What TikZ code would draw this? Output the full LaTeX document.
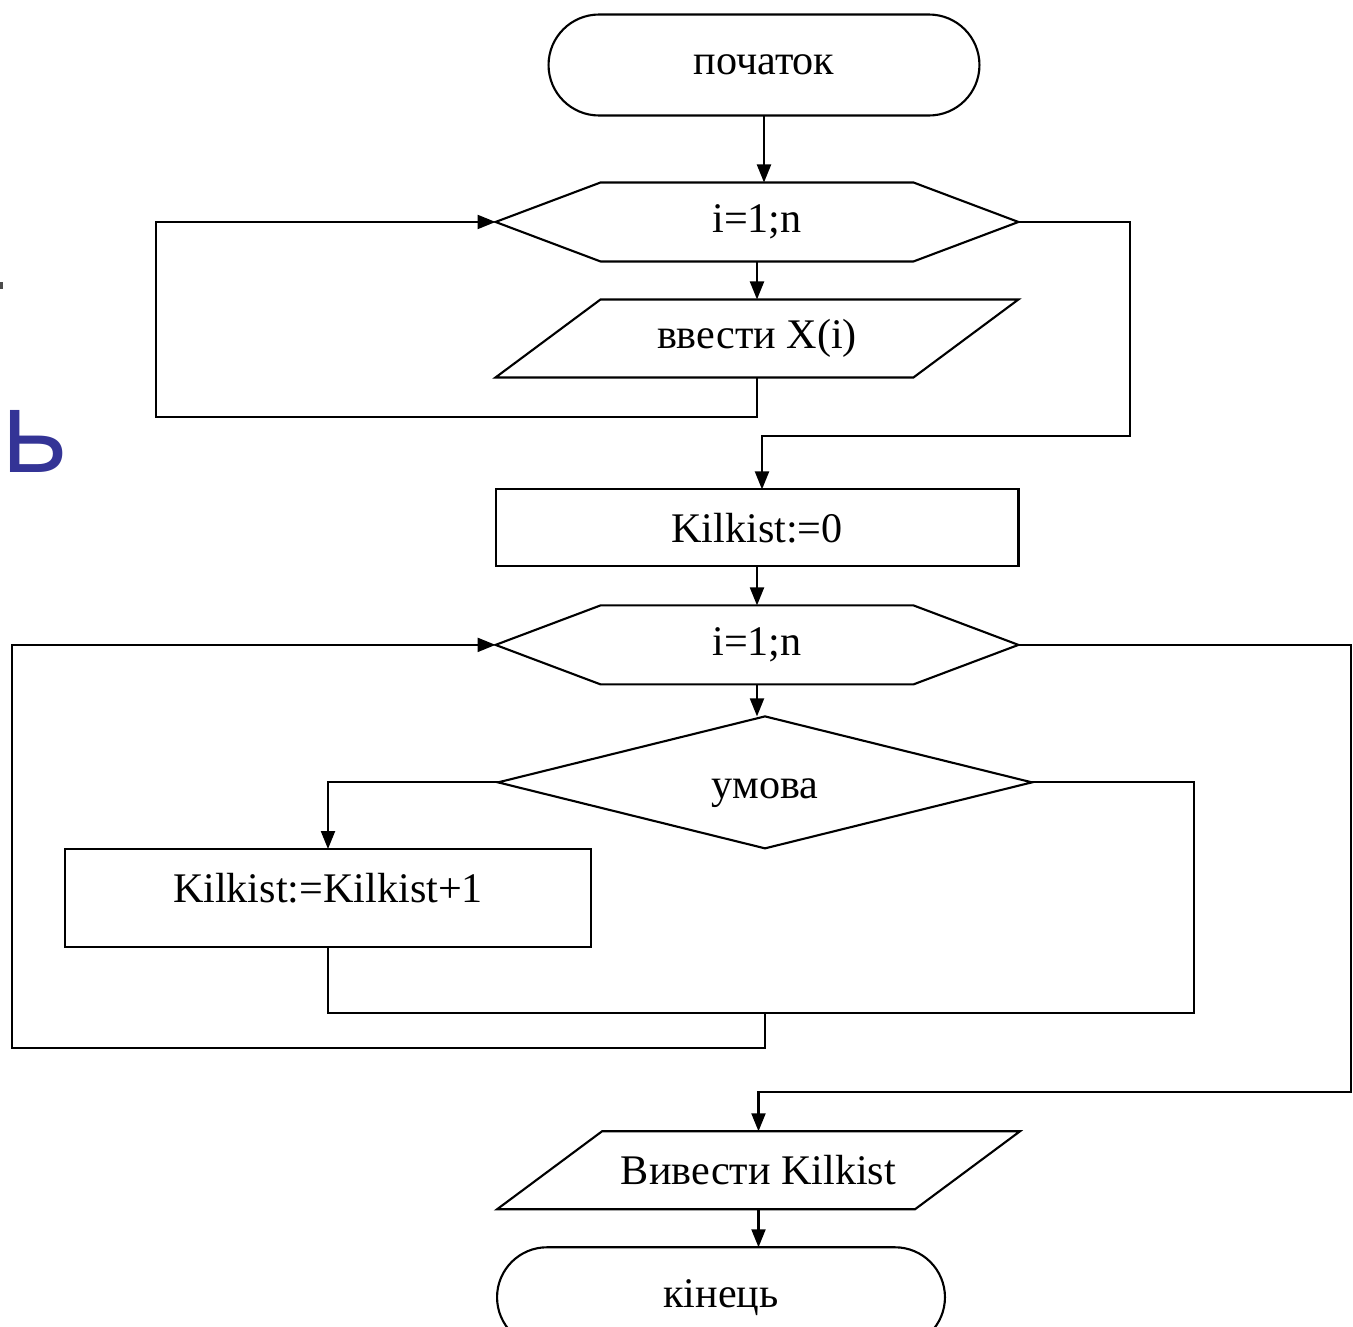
\documentclass[tikz,border=0pt]{standalone}
\usepackage{fontspec}
\setmainfont{Liberation Serif}
\newfontfamily\slidefont{Open Sans}
\usepackage{tikz}
\usetikzlibrary{arrows.meta,positioning,shapes.geometric,shapes.misc}
\definecolor{slideblue}{RGB}{52,52,150}

\begin{document}
\begin{tikzpicture}[
      x=0.02cm, y=-0.02cm,
      line width=1.2pt,
      every node/.style = {font=\fontsize{24}{28}\selectfont, outer sep=0pt, inner sep=0pt},
      term/.style = {rounded rectangle, draw, minimum width=8.62cm, minimum height=2.02cm},
      procbox/.style = {rectangle, draw, minimum width=10.46cm, minimum height=1.54cm},
      loopbox/.style = {rectangle, minimum width=10.46cm, minimum height=1.58cm},
      iobox/.style = {rectangle, minimum width=10.46cm, minimum height=1.56cm},
      cond/.style = {diamond, draw, shape aspect=4, minimum width=10.68cm, minimum height=2.64cm},
      arrow/.style = {-{Triangle[length=0.36cm,width=0.28cm]}}
    ]
    \useasboundingbox (0,0) rectangle (1353,1326);

    % slide fragments at the left edge
    \fill[black!70] (0,282) rectangle (3,289);
    \node[font=\slidefont\fontsize{66}{76}\selectfont, text=slideblue, anchor=base west] (ltr) at (1,472) {ь};

    \node[term] (start) at (764,65) {початок};
    \node[loopbox, below=1.34cm of start, xshift=-0.14cm] (loop1) {i=1;n};
    \node[iobox, below=0.76cm of loop1] (in) {ввести X(i)};
    \node[procbox, below=2.24cm of in] (zero) {Kilkist:=0};
    \node[loopbox, below=0.78cm of zero] (loop2) {i=1;n};
    \node[cond, below=0.64cm of loop2, xshift=0.16cm, text height=0.82cm] (cond) {умова};
    \node[procbox, minimum width=10.52cm, minimum height=1.96cm, text depth=0.4cm] (inc) at (328,898) {Kilkist:=Kilkist+1};
    \node[iobox, below=5.66cm of cond, xshift=-0.13cm] (out) {Вивести Kilkist};
    \node[term, below=0.76cm of out, xshift=-0.75cm, minimum width=8.96cm, minimum height=2cm] (end) {кінець};

    % loop and input/output outlines
    \foreach \n in {loop1, loop2}
      \draw (\n.west) -- ([xshift=2.1cm]\n.north west) -- ([xshift=-2.1cm]\n.north east)
        -- (\n.east) -- ([xshift=-2.1cm]\n.south east) -- ([xshift=2.1cm]\n.south west) -- cycle;
    \foreach \n in {in, out}
      \draw ([xshift=2.1cm]\n.north west) -- (\n.north east)
        -- ([xshift=-2.1cm]\n.south east) -- (\n.south west) -- cycle;

    \coordinate (l1) at (156,417);
    \coordinate (r1) at (1130,436);
    \coordinate (j1) at (762,436);
    \coordinate (r2) at (1194,1013);
    \coordinate (m2) at (765,1013);
    \coordinate (l2) at (12,1048);
    \coordinate (r3) at (1351,1092);

    \draw[arrow] (start.south) -- (start.south |- loop1.north);
    \draw[arrow] (loop1) -- (in);
    \draw[arrow] (in.south) |- (l1) |- (loop1.west);
    \draw[arrow] (loop1.east) -| (r1) -- (j1) -- (j1 |- zero.north);
    \draw[arrow] (zero) -- (loop2);
    \draw[arrow] (loop2.south) -- (loop2.south |- cond.north);
    \draw[arrow] (cond.west) -| (inc.north);
    \draw (cond.east) -| (r2) -| (inc.south);
    \draw[arrow] (m2) |- (l2) |- (loop2.west);
    \draw[arrow] (loop2.east) -| (r3) -| (out.north);
    \draw[arrow] (out.south) -- (out.south |- end.north);
  \end{tikzpicture}
\end{document}
